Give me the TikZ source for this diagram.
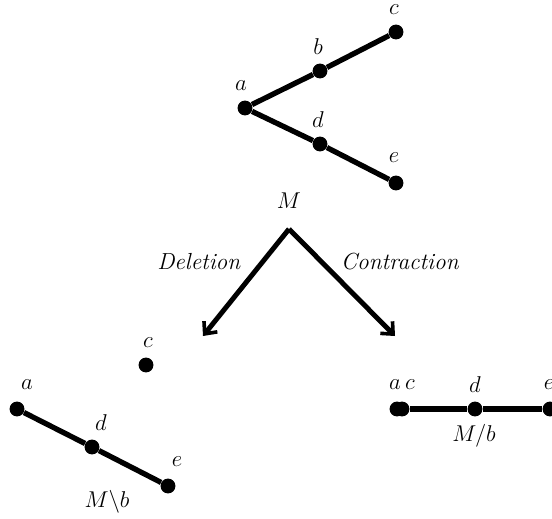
\documentclass[tikz,border=0pt]{standalone}
\usetikzlibrary{arrows.meta}
\begin{document}
\begin{tikzpicture}[x=0.525pt,y=-0.525pt,
  vtx/.style={circle,fill=black,inner sep=0pt,minimum size=7.8pt},
  lbl/.style={inner sep=0pt,font=\fontsize{12.2}{14}\selectfont},
  edge/.style={line width=2.8pt},
  arr/.style={line width=2.6pt,-{Straight Barb[length=5pt,width=9pt,line width=1.9pt]}}]
\useasboundingbox (0,0) rectangle (552,518);
% top graph
\node[vtx] (a) at (245,108) {};
\node[vtx] (b) at (320,71) {};
\node[vtx] (c) at (396,32) {};
\node[vtx] (d) at (320,144) {};
\node[vtx] (e) at (396,183) {};
\draw[edge] (a) -- (b) -- (c);
\draw[edge] (a) -- (d) -- (e);
\node[lbl] (la) at (241,86) {$a$};
\node[lbl] (lb) at (318,47) {$b$};
\node[lbl] (lc) at (394,10) {$c$};
\node[lbl] (ld) at (318,120) {$d$};
\node[lbl] (le) at (394,158) {$e$};
\node[lbl] (M) at (289,201) {$M$};
% arrows
\coordinate (apex) at (289,229);
\coordinate (tl) at (203,336);
\coordinate (tr) at (395,336);
\draw[arr] (apex) -- (tl);
\draw[arr] (apex) -- (tr);
\node[lbl] (del) at (199,262) {\textit{Deletion}};
\node[lbl] (con) at (400,262) {\textit{Contraction}};
% bottom left
\node[vtx] (c1) at (146,365) {};
\node[vtx] (a1) at (17,409) {};
\node[vtx] (d1) at (92,447) {};
\node[vtx] (e1) at (168,486) {};
\draw[edge] (a1) -- (d1) -- (e1);
\node[lbl] (lc1) at (148,343) {$c$};
\node[lbl] (la1) at (27,385) {$a$};
\node[lbl] (ld1) at (101,423) {$d$};
\node[lbl] (le1) at (177,462) {$e$};
\node[lbl] (Mb) at (107,502) {$M\backslash b$};
% bottom right
\node[vtx] (a2) at (397,409) {};
\node[vtx] (c2) at (402,409) {};
\node[vtx] (d2) at (475,409) {};
\node[vtx] (e2) at (550,409) {};
\draw[edge] (c2) -- (d2) -- (e2);
\node[lbl] (la2) at (395,385) {$a$};
\node[lbl] (lc2) at (410,385) {$c$};
\node[lbl] (ld2) at (475,385) {$d$};
\node[lbl] (le2) at (549,385) {$e$};
\node[lbl] (Mslb) at (474,436) {$M/b$};
\end{tikzpicture}
\end{document}
